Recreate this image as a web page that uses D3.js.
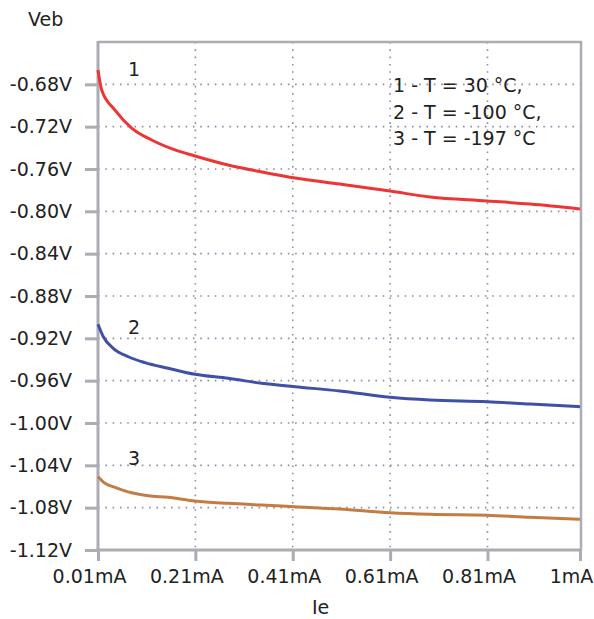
<!DOCTYPE html>
<html>
<head>
<meta charset="utf-8">
<script src="https://cdn.jsdelivr.net/npm/d3@7"></script>
<style>
	body { margin: 0; background: #fff; }
	svg text { font-family: "DejaVu Sans", Verdana, sans-serif; fill: #222; }
</style>
</head>
<body>
<svg id="chart" width="594" height="619"></svg>
<script>

// current, mA
var ieValues = [0.01, 0.0176, 0.0449, 0.0792, 0.1203, 0.1682, 0.2092, 0.277, 0.3468, 0.4146, 0.507, 0.6098, 0.6919, 0.809, 0.8973, 1.0];
var ieValues2 = [0.01, 0.0209, 0.0414, 0.0722, 0.1065, 0.1544, 0.2092, 0.2776, 0.3462, 0.4146, 0.507, 0.6098, 0.6919, 0.809, 0.8973, 1.0];
var ieValues3 = [0.01, 0.0244, 0.0449, 0.0792, 0.1133, 0.1544, 0.2092, 0.2776, 0.3462, 0.4146, 0.507, 0.6098, 0.6919, 0.809, 0.8973, 1.0];

// Veb, V
var veb30 = [-0.6665, -0.6854, -0.7043, -0.7213, -0.7326, -0.7420, -0.7477, -0.7562, -0.7628, -0.7685, -0.7742, -0.7808, -0.7865, -0.7902, -0.7931, -0.7978];
var vebMinus100 = [-0.9067, -0.9185, -0.9294, -0.9374, -0.9430, -0.9483, -0.9540, -0.9578, -0.9625, -0.9657, -0.9698, -0.9757, -0.9783, -0.9799, -0.9821, -0.9846];
var vebMinus197 = [-1.0507, -1.0570, -1.0608, -1.0659, -1.0687, -1.0702, -1.0737, -1.0759, -1.0775, -1.0791, -1.0813, -1.0848, -1.0863, -1.0872, -1.0891, -1.0910];

var curveNames = ["1", "2", "3"];
var legendLines = ["1 - T = 30 \u00B0C,", "2 - T = -100 \u00B0C,", "3 - T = -197 \u00B0C"];

var xTicks = [0.01, 0.21, 0.41, 0.61, 0.81, 1];
var xTickLabels = ["0.01mA", "0.21mA", "0.41mA", "0.61mA", "0.81mA", "1mA"];
var yTicks = [-0.68, -0.72, -0.76, -0.80, -0.84, -0.88, -0.92, -0.96, -1.00, -1.04, -1.08, -1.12];
var yTickLabels = ["-0.68V", "-0.72V", "-0.76V", "-0.80V", "-0.84V", "-0.88V", "-0.92V", "-0.96V", "-1.00V", "-1.04V", "-1.08V", "-1.12V"];

var series = [
	{ name: curveNames[0], x: ieValues, y: veb30, color: "#ee3535" },
	{ name: curveNames[1], x: ieValues2, y: vebMinus100, color: "#3f50a6" },
	{ name: curveNames[2], x: ieValues3, y: vebMinus197, color: "#c47c45" }
];

var plotLeft = 98, plotRight = 580, plotTop = 42, plotBottom = 550;
var axisColor = "#abacb4";
var gridColor = "#8c8cac";

var svg = d3.select("#chart");

var x = d3.scaleLinear().domain([0.01, 1]).range([plotLeft, plotRight]);
var y = d3.scaleLinear().domain([-1.12, -0.64]).range([plotBottom, plotTop]);

// grid
svg.append("g")
	.selectAll("line")
	.data(yTicks.slice(0, -1))
	.enter().append("line")
	.attr("x1", plotLeft)
	.attr("x2", plotRight)
	.attr("y1", function(d) { return y(d); })
	.attr("y2", function(d) { return y(d); })
	.attr("stroke", gridColor)
	.attr("stroke-width", 1.6)
	.attr("stroke-dasharray", "1.6,5.7");

svg.append("g")
	.selectAll("line")
	.data(xTicks.slice(1, -1))
	.enter().append("line")
	.attr("x1", function(d) { return x(d); })
	.attr("x2", function(d) { return x(d); })
	.attr("y1", plotTop)
	.attr("y2", plotBottom)
	.attr("stroke", gridColor)
	.attr("stroke-width", 1.6)
	.attr("stroke-dasharray", "1.6,5.7");

// frame top / right
svg.append("path")
	.attr("d", "M" + plotLeft + "," + plotTop + "H" + (plotRight + 1) + "V" + plotBottom)
	.attr("fill", "none")
	.attr("stroke", axisColor)
	.attr("stroke-width", 2.5);

// axes
var yAxis = svg.append("g")
	.attr("transform", "translate(" + plotLeft + ",0)")
	.call(d3.axisLeft(y)
		.tickValues(yTicks)
		.tickFormat(function(d, i) { return yTickLabels[i]; })
		.tickSize(13)
		.tickPadding(13)
		.tickSizeOuter(0));

var xAxis = svg.append("g")
	.attr("transform", "translate(0," + plotBottom + ")")
	.call(d3.axisBottom(x)
		.tickValues(xTicks)
		.tickFormat(function(d, i) { return xTickLabels[i]; })
		.tickSize(11)
		.tickPadding(9)
		.tickSizeOuter(0));

[yAxis, xAxis].forEach(function(a)
{
	a.select(".domain").attr("stroke", axisColor).attr("stroke-width", 3);
	a.selectAll(".tick line").attr("stroke", axisColor).attr("stroke-width", 3);
	a.selectAll(".tick text")
		.attr("fill", "#222")
		.attr("font-size", "19px")
		.attr("font-family", "DejaVu Sans, Verdana, sans-serif");
});
yAxis.select(".domain").attr("d", "M0," + (plotBottom + 2) + "V" + (plotTop - 1));
xAxis.select(".domain").attr("d", "M" + (plotLeft - 1.5) + ",0H" + (plotRight + 1));
xAxis.selectAll(".tick text").attr("dx", -9);

// curves
var line = d3.line()
	.x(function(d) { return x(d[0]); })
	.y(function(d) { return y(d[1]); })
	.curve(d3.curveMonotoneX);

svg.append("g")
	.selectAll("path")
	.data(series)
	.enter().append("path")
	.attr("d", function(d)
	{
		return line(d.x.map(function(v, i) { return [v, d.y[i]]; }));
	})
	.attr("fill", "none")
	.attr("stroke", function(d) { return d.color; })
	.attr("stroke-width", 3)
	.attr("stroke-linejoin", "round");

// curve numbers
var numberPos = [[0.0716, -0.6721], [0.0716, -0.9159], [0.0716, -1.0397]];
svg.append("g")
	.selectAll("text")
	.data(series)
	.enter().append("text")
	.text(function(d) { return d.name; })
	.attr("x", function(d, i) { return x(numberPos[i][0]); })
	.attr("y", function(d, i) { return y(numberPos[i][1]); })
	.attr("font-size", "19px");

// legend
svg.append("g")
	.selectAll("text")
	.data(legendLines)
	.enter().append("text")
	.text(function(d) { return d; })
	.attr("x", 393)
	.attr("y", function(d, i) { return 92 + i * 26.5; })
	.attr("font-size", "19px");

// axis titles
svg.append("text")
	.text("Veb")
	.attr("x", 28)
	.attr("y", 26)
	.attr("font-size", "19px");

svg.append("text")
	.text("Ie")
	.attr("x", 312)
	.attr("y", 614)
	.attr("font-size", "19px");

</script>
</body>
</html>
